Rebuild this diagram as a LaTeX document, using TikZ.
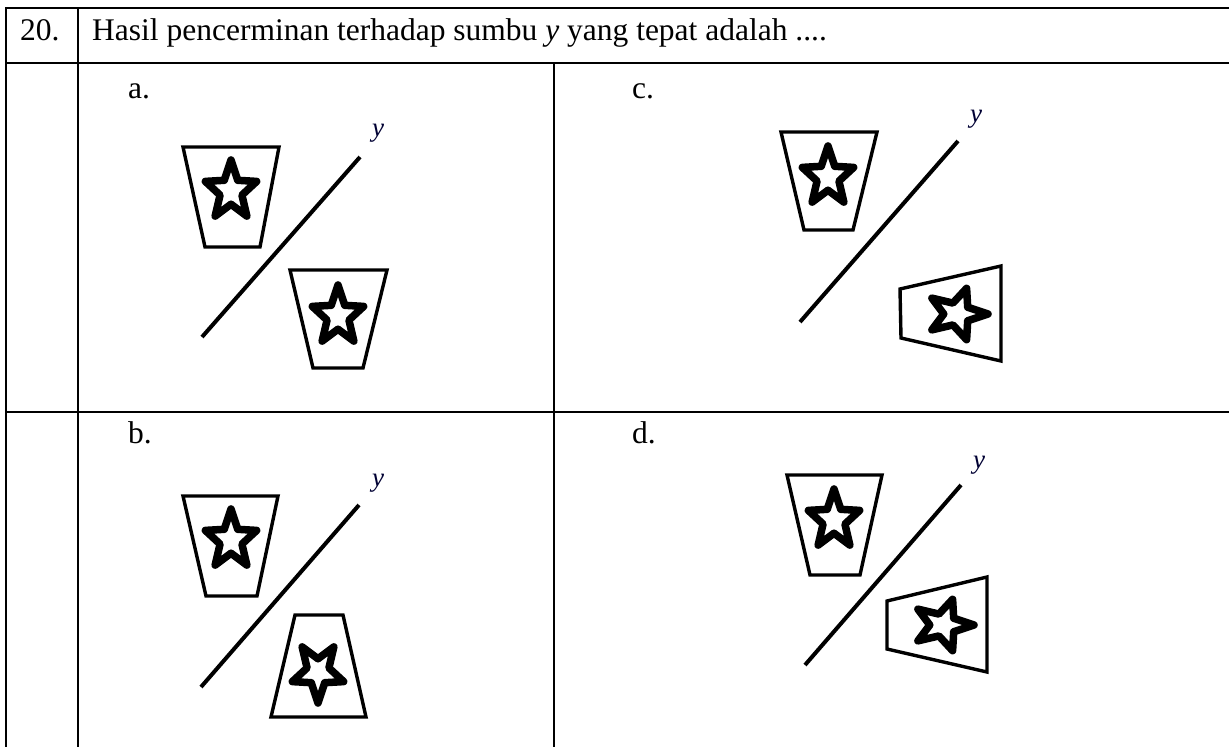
\documentclass[tikz,border=0pt]{standalone}
\usepackage{fontspec}
\setmainfont{Liberation Serif}
\newcommand\mystar[3]{%
  \draw[starline, shift={(#1,#2)}, rotate=#3, yscale=1.15]
    (-90:27) -- (-54:11.5) -- (-18:27) -- (18:11.5) -- (54:27) -- (90:11.5)
    -- (126:27) -- (162:11.5) -- (198:27) -- (234:11.5) -- cycle;}
\begin{document}
\begin{tikzpicture}[x=1pt,y=-1pt,
  grid/.style={line width=2.4pt},
  trap/.style={line width=3.4pt, line join=miter},
  starline/.style={line width=7.5pt, line join=round, fill=white},
  axis/.style={line width=4pt},
  lbl/.style={font=\fontsize{31.5}{36}\selectfont, anchor=base west, inner sep=0pt},
  ylbl/.style={font=\fontsize{27}{30}\selectfont\itshape, text=black!80!blue, inner sep=0pt}]
\useasboundingbox (0,0) rectangle (1229,747);
% table
\draw[grid] (1229,8) -- (6,8) -- (6,747);
\draw[grid] (6,63) -- (1229,63);
\draw[grid] (6,412) -- (1229,412);
\draw[grid] (78,8) -- (78,747);
\draw[grid] (554,63) -- (554,747);
% texts
\node[lbl] (num) at (20,40) {20.};
\node[lbl] (q) at (92,40) {Hasil pencerminan terhadap sumbu \textit{y} yang tepat adalah ....};
\node[lbl] (la) at (128,98) {a.};
\node[lbl] (lc) at (632,98) {c.};
\node[lbl] (lb) at (128,443) {b.};
\node[lbl] (ld) at (632,443) {d.};
% panel a
\draw[trap] (183,147) -- (279,147) -- (260,247) -- (205,247) -- cycle;
\mystar{231}{191}{0}
\draw[trap] (290,270) -- (387,270) -- (363,368) -- (313,368) -- cycle;
\mystar{338}{316}{0}
\draw[axis] (202,337) -- (360,157);
\node[ylbl] (ya) at (378,133) {y};
% panel c
\draw[trap] (781,132) -- (877,132) -- (853,230) -- (804,230) -- cycle;
\mystar{828}{177}{0}
\draw[trap] (900,289) -- (1001,266) -- (1001,361) -- (901,338) -- cycle;
\mystar{957}{314}{-90}
\draw[axis] (800,322) -- (958,141);
\node[ylbl] (yc) at (976,119) {y};
% panel b
\draw[trap] (183,496) -- (278,496) -- (257,596) -- (206,596) -- cycle;
\mystar{231}{540}{0}
\draw[trap] (295,615) -- (343,615) -- (366,717) -- (271,717) -- cycle;
\mystar{318}{672}{180}
\draw[axis] (201,687) -- (359,505);
\node[ylbl] (yb) at (378,483) {y};
% panel d
\draw[trap] (787,475) -- (882,475) -- (860,575) -- (810,575) -- cycle;
\mystar{834}{520}{0}
\draw[trap] (887,601) -- (987,577) -- (987,672) -- (887,649) -- cycle;
\mystar{943}{625}{-90}
\draw[axis] (805,665) -- (961,485);
\node[ylbl] (yd) at (979,465) {y};
\end{tikzpicture}
\end{document}
